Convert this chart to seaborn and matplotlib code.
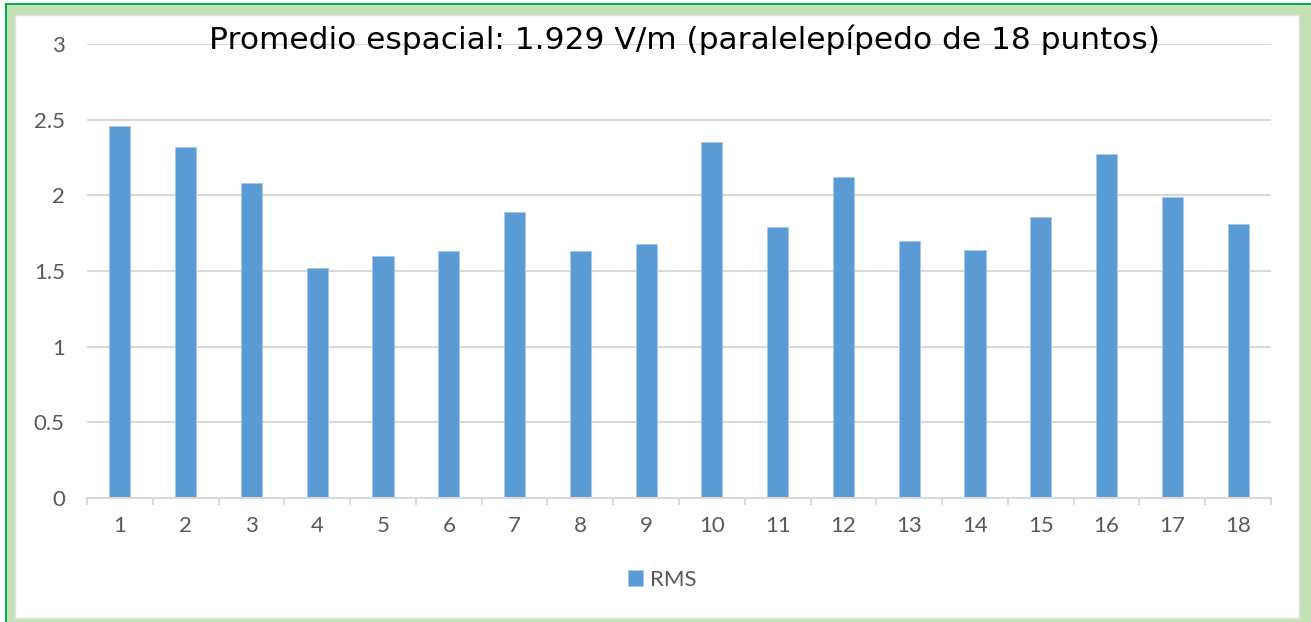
import matplotlib
matplotlib.use("Agg")
import matplotlib.pyplot as plt
import seaborn as sns
import pandas as pd
from matplotlib.patches import Rectangle
from matplotlib.ticker import MultipleLocator, FixedLocator

# values
puntos = [str(i) for i in range(1, 19)]
rms = [2.46, 2.32, 2.08, 1.52, 1.60, 1.63, 1.89, 1.63, 1.68,
       2.35, 1.79, 2.12, 1.70, 1.64, 1.86, 2.27, 1.99, 1.81]
titulo = "Promedio espacial: 1.929 V/m (paralelepípedo de 18 puntos)"
serie = "RMS"

BAR_COLOR = "#5B9BD5"
GRID_COLOR = "#D9D9D9"
TEXT_COLOR = "#595959"

sns.set_theme(style="white")
plt.rcParams["font.family"] = ["Lato", "DejaVu Sans"]

W, H = 1311, 622
fig = plt.figure(figsize=(W / 100, H / 100), dpi=100)

# green frame (outer dark line, light band, white inner area)
fig.patches.append(Rectangle((5 / W, 0), 1, 1 - 3 / H, transform=fig.transFigure,
                             facecolor="#00B050", edgecolor="none", zorder=-3))
fig.patches.append(Rectangle((7 / W, 0), 1, 1 - 5 / H, transform=fig.transFigure,
                             facecolor="#C5E0B4", edgecolor="none", zorder=-2))
fig.patches.append(Rectangle((15 / W, 4 / H), (1299 - 15) / W, (618 - 15) / H,
                             transform=fig.transFigure, facecolor="white",
                             edgecolor="#E0E0E0", linewidth=1, zorder=-1))

ax = fig.add_axes([87 / W, 124 / H, (1271 - 87) / W, (498 - 44) / H])
ax.set_facecolor("none")

df = pd.DataFrame({"punto": puntos, "rms": rms})
sns.barplot(data=df, x="punto", y="rms", color=BAR_COLOR, width=0.32,
            saturation=1, edgecolor="#A9C8EA", linewidth=0.6, label=serie, ax=ax)

ax.set_ylim(0, 3)
ax.set_xlim(-0.5, len(puntos) - 0.5)
ax.yaxis.set_major_locator(MultipleLocator(0.5))
ax.yaxis.set_major_formatter(matplotlib.ticker.FuncFormatter(lambda v, p: f"{v:g}"))
ax.grid(axis="y", color=GRID_COLOR, linewidth=1.5)
ax.set_axisbelow(True)

for s in ["top", "right", "left"]:
    ax.spines[s].set_visible(False)
ax.spines["bottom"].set_color(GRID_COLOR)
ax.spines["bottom"].set_linewidth(1.5)

ax.tick_params(axis="y", length=0, pad=16, labelsize=16, labelcolor=TEXT_COLOR)
ax.tick_params(axis="x", which="major", length=0, pad=13, labelsize=16,
               labelcolor=TEXT_COLOR)
ax.xaxis.set_minor_locator(FixedLocator([i - 0.5 for i in range(len(puntos) + 1)]))
ax.tick_params(axis="x", which="minor", length=5, width=1.5, color=GRID_COLOR,
               bottom=True)
ax.set_xlabel("")
ax.set_ylabel("")

fig.text(684 / W, 1 - 40 / H, titulo, ha="center", va="center",
         fontsize=22.5, color="black", family=["DejaVu Sans"])

ax.legend(loc="center", bbox_to_anchor=((662 - 87) / (1271 - 87), -0.18),
          frameon=False, fontsize=16, labelcolor=TEXT_COLOR, handlelength=0.7,
          handleheight=0.7, handletextpad=0.3)

plt.savefig("out.png", dpi=100)
